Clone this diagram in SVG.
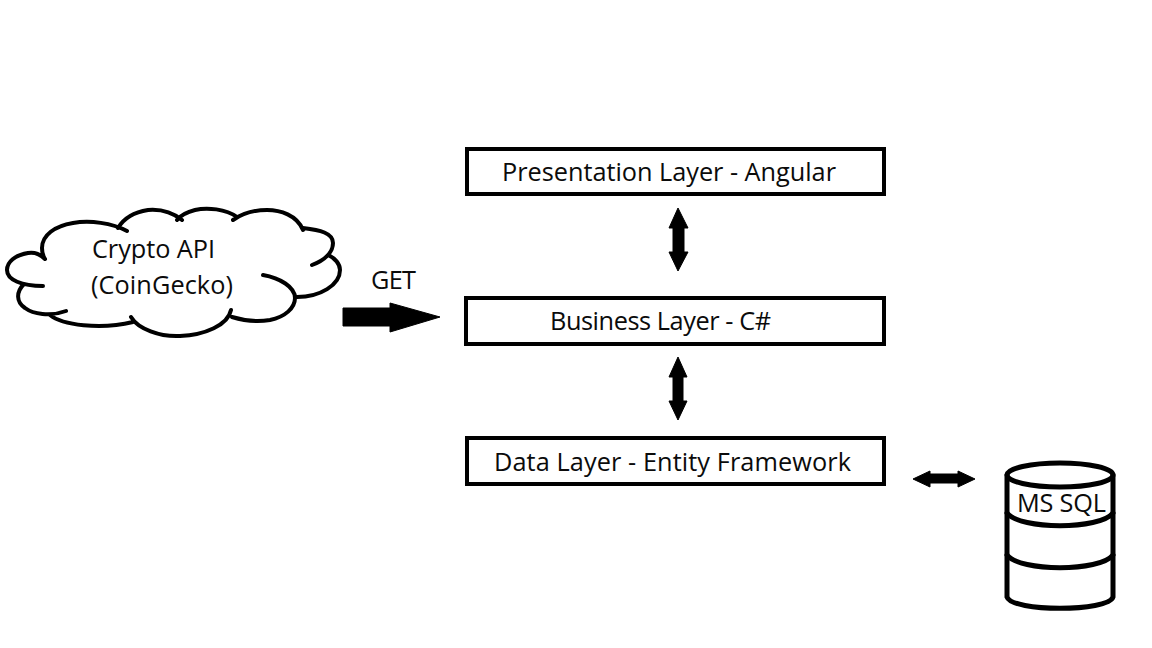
<svg xmlns="http://www.w3.org/2000/svg" width="1152" height="648" viewBox="0 0 1152 648">
<style>
text{font-family:"Open Sans","Noto Sans","Liberation Sans",sans-serif;font-size:25.3px;fill:#0b0b0b}
.box{fill:#fff;stroke:#000;stroke-width:4}
.line{fill:none;stroke:#000;stroke-width:4;stroke-linecap:round}
.cyl{fill:none;stroke:#000;stroke-width:5;stroke-linecap:round}
.arrow{fill:#000;stroke:#000;stroke-width:1;stroke-linejoin:round}
</style>
<rect width="1152" height="648" fill="#fff"/>
<g id="cloud">
<path class="line" d="M45 259C40 254 34 252 28 253C15 255 7 262 7 270C7 280 22 286 43 286M24 284C16 292 16 302 25 308C33 314 50 317 66 311M50 315C62 325 100 330 133 322M131 317C138 329 160 337 180 336C205 335 228 325 231 310M232 317C245 321 258 322 270 320C285 317 295 308 295 298C295 287 280 278 263 275M297 297C320 297 340 285 340 270C340 264 335 258 328 255M312 265C325 260 333 252 333 243C333 233 320 230 303 228M303 230C297 215 280 210 267 210C255 210 243 213 233 220M237 217C226 209 207 207 195 210C187 212 181 215 177 220M182 220C172 212 160 209 148 210C135 212 124 218 118 228M127 231C112 223 90 220 73 223C55 226 42 235 42 248C42 252 43 256 45 259"/>
<text x="92" y="258" textLength="123">Crypto API</text>
<text x="91" y="294" textLength="142">(CoinGecko)</text>
</g>
<g id="presentation">
<rect class="box" x="467" y="149" width="417" height="45"/>
<text x="502" y="181" textLength="334">Presentation Layer - Angular</text>
</g>
<g id="business">
<rect class="box" x="466" y="298" width="418" height="46"/>
<text x="550" y="330" textLength="221">Business Layer - C#</text>
</g>
<g id="data">
<rect class="box" x="467" y="438" width="417" height="46"/>
<text x="494" y="471" textLength="357">Data Layer - Entity Framework</text>
</g>
<g id="database">
<path class="cyl" d="M1007 475V597C1012 612 1108 612 1113 597V475"/>
<ellipse class="cyl" cx="1060" cy="475" rx="53" ry="12"/>
<path class="cyl" d="M1007 513C1020 530 1100 530 1113 513M1007 555C1020 572 1100 572 1113 555"/>
<text x="1017" y="512" textLength="89">MS SQL</text>
</g>
<g id="connectors">
<path class="arrow" d="M678 208L688 228H684V252H688L678 271L669 252H673V228H669Z"/>
<path class="arrow" d="M678 357L687 377H683V401H687L678 420L669 401H673V377H669Z"/>
<path class="arrow" d="M913 479L930 471V474H958V471L975 479L958 487V483H930V487Z"/>
<path class="arrow" d="M343 308H390V303L440 317L390 332V326H343Z"/>
</g>
<text id="get-label" x="371" y="289" textLength="45">GET</text>
</svg>
